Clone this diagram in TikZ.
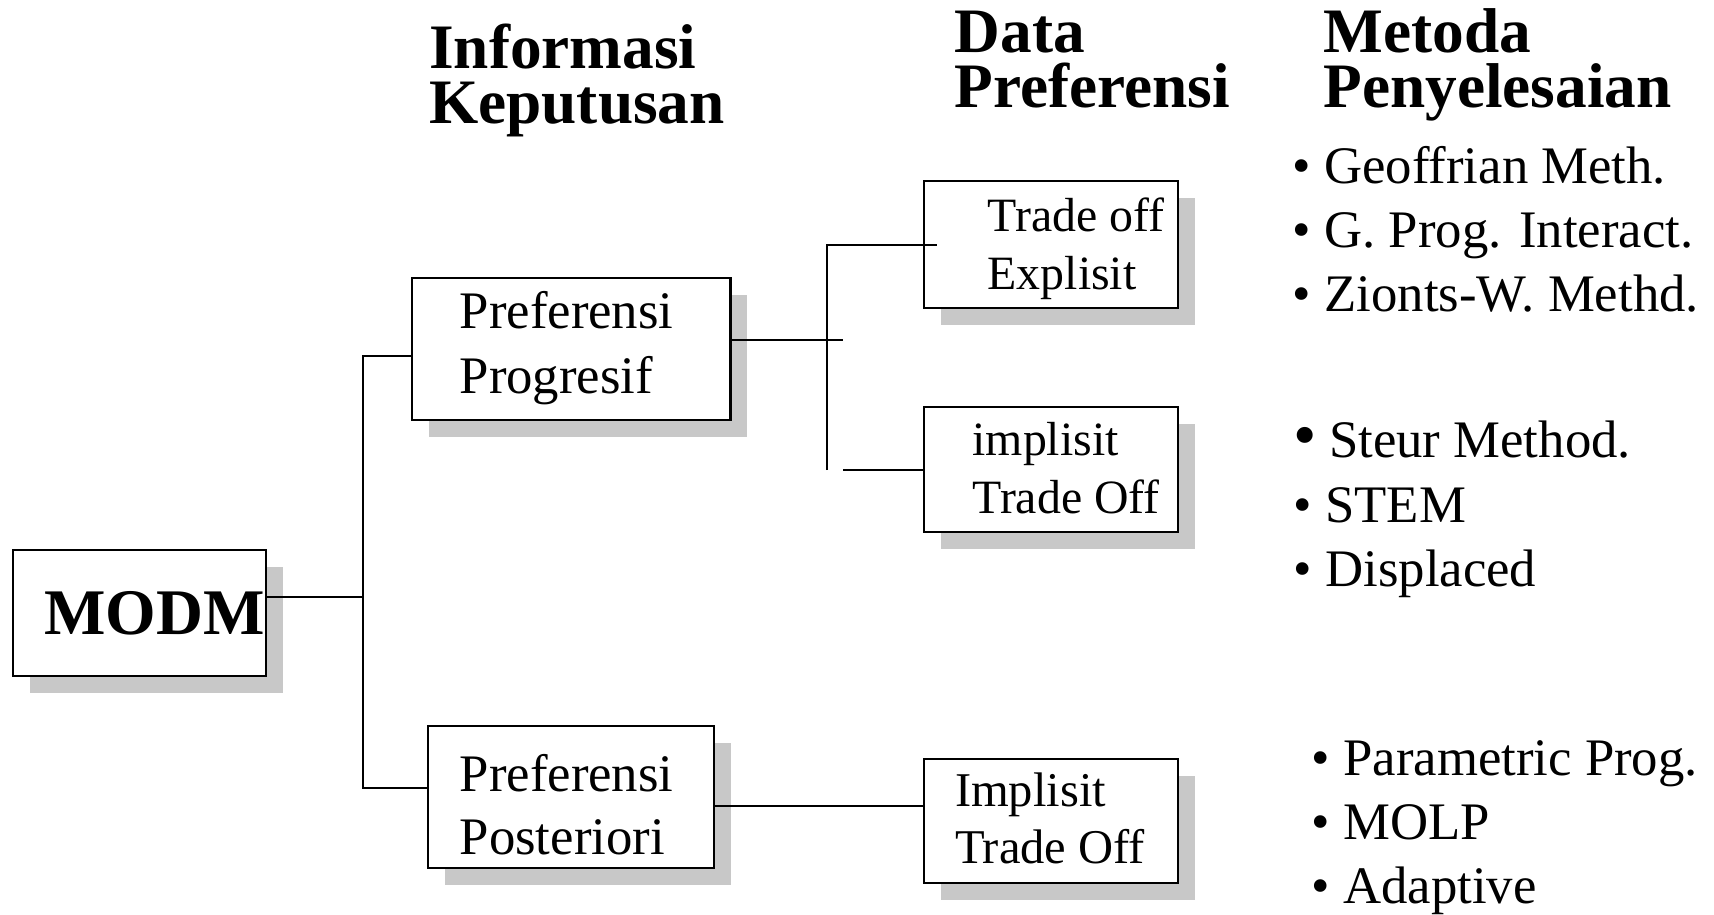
\documentclass[tikz,border=0pt]{standalone}
\usepackage{fontspec}
\setmainfont{Liberation Serif}
\usetikzlibrary{positioning, shadows}

\definecolor{shadowgray}{RGB}{200,200,200}

\tikzset{
	box/.style={
		draw=black,
		line width=0.8pt,
		fill=white,
		inner sep=0pt,
		general shadow={fill=shadowgray, shadow xshift=0.17cm, shadow yshift=-0.17cm}
	},
	boxtext/.style={
		anchor=base west,
		inner sep=0pt,
		align=left,
		font=\fontsize{15}{18.6}\selectfont
	},
	datatext/.style={
		boxtext,
		font=\fontsize{13.6}{16.5}\selectfont
	},
	headtext/.style={
		anchor=base west,
		inner sep=0pt,
		align=left,
		font=\fontsize{18}{15.6}\selectfont\bfseries
	},
	methods/.style={
		anchor=base west,
		inner sep=0pt,
		align=left,
		font=\fontsize{15}{18.2}\selectfont
	},
	link/.style={line width=0.8pt}
}

\begin{document}
\begin{tikzpicture}[x=0.01cm, y=-0.01cm]
		\useasboundingbox (0,0) rectangle (1714,915);

		\node[box, minimum width=2.53cm, minimum height=1.26cm] (modm) at (139.5,613) {};
		\node[box, minimum width=3.18cm, minimum height=1.42cm] (prog) at (571,349) {};
		\node[box, minimum width=2.86cm, minimum height=1.42cm] (post) at (571,797) {};
		\node[box, minimum width=2.54cm, minimum height=1.27cm] (expl) at (1051,244.5) {};
		\node[box, minimum width=2.54cm, minimum height=1.25cm] (impl) at (1051,469.5) {};
		\node[box, minimum width=2.54cm, minimum height=1.24cm] (implb) at (1051,821) {};

		\node[
			anchor=base west,
			inner sep=0pt,
			font=\fontsize{18.5}{18.5}\selectfont\bfseries
		] (modm-txt) at (43.7,634) {MODM};
		\node[boxtext] (prog-txt) at (459,393.5) {Preferensi\\Progresif};
		\node[boxtext, font=\fontsize{15}{18}\selectfont] (post-txt) at (459,854.8) {Preferensi\\Posteriori};
		\node[datatext] (expl-txt) at (987,289.7) {Trade off\\Explisit};
		\node[datatext] (impl-txt) at (971.8,513.8) {implisit\\Trade Off};
		\node[datatext, font=\fontsize{13.8}{16.2}\selectfont] (implb-txt) at (954.3,863.5) {Implisit\\Trade Off};

		\coordinate (trunk) at (363,597);
		\coordinate (trunktop) at (363,356);
		\coordinate (trunkbot) at (363,788);
		\coordinate (fork) at (843,340);
		\coordinate (forktop) at (827,245);
		\coordinate (forkbot) at (827,470);
		\coordinate (forkgap) at (843,470);
		\coordinate (postlink) at (714,806);

		\draw[link] (modm.east |- trunk) -- (trunk);
		\draw[link] (prog.west |- trunktop) -- (trunktop) -- (trunkbot) -- (post.west |- trunkbot);
		\draw[link] (prog.east |- fork) -- (fork);
		\draw[link] (forkbot) -- (forktop) -- ([xshift=0.14cm]expl.west |- forktop);
		\draw[link] (forkgap) -- (impl.west |- forkgap);
		\draw[link] (postlink) -- (implb.west |- postlink);

		\node[headtext] (info) at (428.5,123.5) {Informasi\\Keputusan};
		\node[headtext] (data) at (954,107) {Data\\Preferensi};
		\node[headtext] (metoda) at (1322.7,107) {Metoda\\Penyelesaian};

		\node[methods] (m-inter) at (1292,311.5) {• Geoffrian Meth.\\• G. Prog. Interact.\\• Zionts-W. Methd.};
		\node[methods] (m-impl) at (1293,586) {{\fontsize{19}{19}\selectfont•}\hspace{0.12cm}Steur Method.\\• STEM\\• Displaced};
		\node[methods] (m-post) at (1311,903) {• Parametric Prog.\\• MOLP\\• Adaptive};
	\end{tikzpicture}
\end{document}
